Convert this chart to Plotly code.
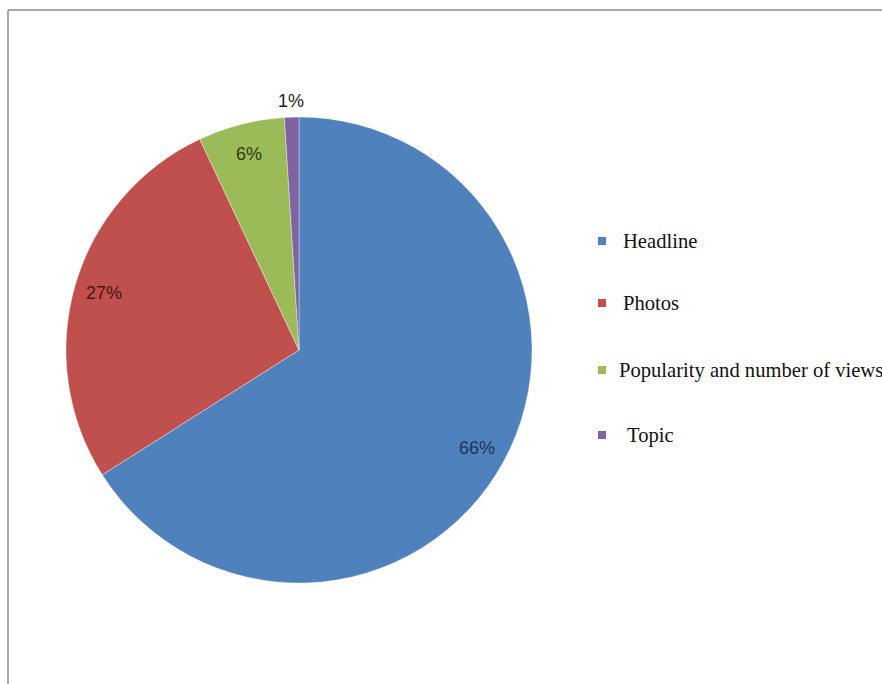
import math
import plotly.graph_objects as go

categories = ["Headline", "Photos", "Popularity and number of views", "Topic"]
values = [66, 27, 6, 1]
colors = ["#4F81BD", "#C0504D", "#9BBB59", "#8064A2"]
label_colors = ["#1c3557", "#4a1614", "#2d3c12", "#222222"]

W, H = 882, 684
cx, cy, R = 299, 350, 233  # pie centre / radius in pixels

fig = go.Figure()
fig.add_trace(go.Pie(
    labels=categories,
    values=values,
    sort=False,
    direction="clockwise",
    rotation=0,
    marker=dict(colors=colors, line=dict(color="rgba(255,255,255,0.6)", width=0.6)),
    textinfo="none",
    hoverinfo="label+percent",
    showlegend=False,
    domain=dict(x=[(cx - R) / W, (cx + R) / W],
                y=[(H - cy - R) / H, (H - cy + R) / H]),
))

annotations = []
total = sum(values)
cum = 0
for v, lc in zip(values, label_colors):
    mid = (cum + v / 2) / total * 2 * math.pi
    cum += v
    f = 0.87 if v / total >= 0.03 else 1.07
    px = cx + f * R * math.sin(mid)
    py = cy - f * R * math.cos(mid)
    annotations.append(dict(
        x=px / W, y=1 - py / H, xref="paper", yref="paper",
        text=f"{round(v / total * 100)}%", showarrow=False,
        font=dict(family="Liberation Sans", size=18, color=lc),
        xanchor="center", yanchor="middle"))

# legend drawn manually to match spacing
leg_y = [241, 303, 370, 435]
leg_text_x = [621, 621, 617, 625]
shapes = []
for name, col, ly, tx in zip(categories, colors, leg_y, leg_text_x):
    shapes.append(dict(type="rect", xref="paper", yref="paper",
                       x0=598 / W, x1=606 / W, y0=1 - (ly + 4) / H, y1=1 - (ly - 4) / H,
                       fillcolor=col, line=dict(width=0)))
    annotations.append(dict(
        x=tx / W, y=1 - ly / H, xref="paper", yref="paper", text=name,
        showarrow=False, xanchor="left", yanchor="middle",
        font=dict(family="Liberation Serif", size=20.6, color="#111111")))

# outer frame (left and top edges visible)
shapes.append(dict(type="line", xref="paper", yref="paper",
                   x0=8 / W, x1=8 / W, y0=0, y1=1 - 10 / H,
                   line=dict(color="#8a8a8a", width=1.5)))
shapes.append(dict(type="line", xref="paper", yref="paper",
                   x0=8 / W, x1=1, y0=1 - 10 / H, y1=1 - 10 / H,
                   line=dict(color="#8a8a8a", width=1.5)))

fig.update_layout(
    width=W, height=H,
    margin=dict(l=0, r=0, t=0, b=0),
    paper_bgcolor="white",
    plot_bgcolor="white",
    annotations=annotations,
    shapes=shapes,
    showlegend=False,
)

fig.write_html("out.html", config={"displayModeBar": False},
               post_script="document.body.style.margin='0';document.body.style.overflow='hidden';")
